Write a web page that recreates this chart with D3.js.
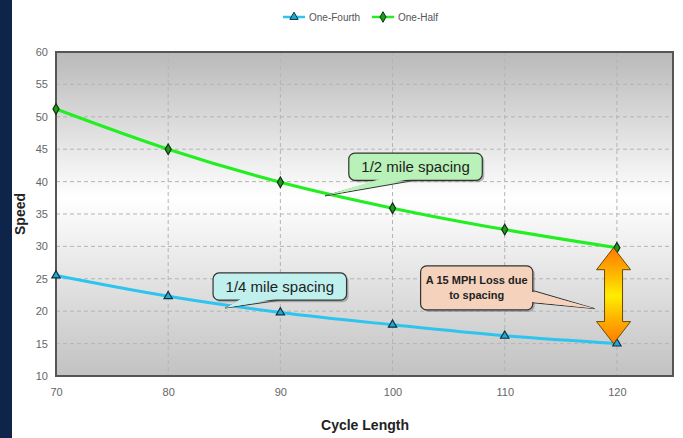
<!DOCTYPE html>
<html><head><meta charset="utf-8">
<script src="https://cdn.jsdelivr.net/npm/d3@7"></script>
<style>body{margin:0;background:#fff;}svg{display:block;font-family:"Liberation Sans",Arial,sans-serif;}</style>
</head><body>
<script>
const cycleLengths = [70, 80, 90, 100, 110, 120];
const oneFourth = [25.5, 22.3, 19.8, 17.9, 16.2, 15.0];
const oneHalf = [51.2, 45.0, 39.9, 35.9, 32.6, 29.8];
const xTicks = [70, 80, 90, 100, 110, 120];
const yTicks = [10, 15, 20, 25, 30, 35, 40, 45, 50, 55, 60];
const seriesNames = ["One-Fourth", "One-Half"];

const W = 683, H = 438;
const m = {l: 56, t: 52, r: 673, b: 376};
const svg = d3.select("body").append("svg").attr("width", W).attr("height", H);

svg.append("rect").attr("x", 0).attr("y", 0).attr("width", 12).attr("height", H).attr("fill", "#0e2448");

const x = d3.scaleLinear().domain([70, 125]).range([m.l, m.r]);
const y = d3.scaleLinear().domain([10, 60]).range([m.b, m.t]);

const defs = svg.append("defs");
const bg = defs.append("linearGradient").attr("id", "bg").attr("x1", 0).attr("y1", 0).attr("x2", 0).attr("y2", 1);
bg.append("stop").attr("offset", "0%").attr("stop-color", "#b9b9b9");
bg.append("stop").attr("offset", "45%").attr("stop-color", "#ffffff");
bg.append("stop").attr("offset", "100%").attr("stop-color", "#c2c2c2");
const ag = defs.append("linearGradient").attr("id", "arr").attr("x1", 0).attr("y1", 0).attr("x2", 0).attr("y2", 1);
ag.append("stop").attr("offset", "0%").attr("stop-color", "#ff7a00");
ag.append("stop").attr("offset", "25%").attr("stop-color", "#ffb000");
ag.append("stop").attr("offset", "50%").attr("stop-color", "#ffee00");
ag.append("stop").attr("offset", "75%").attr("stop-color", "#ffb000");
ag.append("stop").attr("offset", "100%").attr("stop-color", "#ff7a00");

svg.append("rect").attr("x", m.l).attr("y", m.t).attr("width", m.r - m.l).attr("height", m.b - m.t).attr("fill", "url(#bg)");

svg.append("g").selectAll("line").data(yTicks.slice(1, -1)).join("line")
  .attr("x1", m.l).attr("x2", m.r).attr("y1", d => y(d)).attr("y2", d => y(d))
  .attr("stroke", "#b4b4b4").attr("stroke-dasharray", "4,3");
svg.append("g").selectAll("line").data(xTicks.slice(1)).join("line")
  .attr("y1", m.t).attr("y2", m.b).attr("x1", d => x(d)).attr("x2", d => x(d))
  .attr("stroke", "#b4b4b4").attr("stroke-dasharray", "4,3");

svg.append("rect").attr("x", m.l).attr("y", m.t).attr("width", m.r - m.l).attr("height", m.b - m.t)
  .attr("fill", "none").attr("stroke", "#555").attr("stroke-width", 2);

const yAxis = svg.append("g").attr("transform", `translate(${m.l - 6},0)`)
  .call(d3.axisLeft(y).tickValues(yTicks).tickSize(0).tickPadding(2));
yAxis.select(".domain").remove();
yAxis.selectAll("text").attr("font-size", 11).attr("fill", "#666");
const xAxis = svg.append("g").attr("transform", `translate(0,${m.b + 10})`)
  .call(d3.axisBottom(x).tickValues(xTicks).tickSize(0).tickPadding(2));
xAxis.select(".domain").remove();
xAxis.selectAll("text").attr("font-size", 11).attr("fill", "#666");

svg.append("text").attr("transform", `translate(25,${(m.t + m.b) / 2}) rotate(-90)`)
  .attr("text-anchor", "middle").attr("font-size", 14).attr("font-weight", "bold").attr("fill", "#222").text("Speed");
svg.append("text").attr("x", 365).attr("y", 430).attr("text-anchor", "middle")
  .attr("font-size", 14).attr("font-weight", "bold").attr("fill", "#222").text("Cycle Length");

const line = d3.line().x(d => x(d[0])).y(d => y(d[1])).curve(d3.curveMonotoneX);
const dQ = cycleLengths.map((c, i) => [c, oneFourth[i]]);
const dH = cycleLengths.map((c, i) => [c, oneHalf[i]]);
svg.append("path").attr("d", line(dQ)).attr("fill", "none").attr("stroke", "#2ec4f0").attr("stroke-width", 3);
svg.append("path").attr("d", line(dH)).attr("fill", "none").attr("stroke", "#22ee22").attr("stroke-width", 3);

const tri = d3.symbol().type(d3.symbolTriangle).size(30);
const dia = d3.symbol().type(d3.symbolDiamond).size(32);
svg.append("g").selectAll("path").data(dQ).join("path")
  .attr("d", tri).attr("transform", d => `translate(${x(d[0])},${y(d[1])})`)
  .attr("fill", "#1fa9d6").attr("stroke", "#0b3340").attr("stroke-width", 1.2);
svg.append("g").selectAll("path").data(dH).join("path")
  .attr("d", dia).attr("transform", d => `translate(${x(d[0])},${y(d[1])})`)
  .attr("fill", "#1d9a1d").attr("stroke", "#0b330b").attr("stroke-width", 1.2);

const lg = svg.append("g").attr("font-size", 10).attr("fill", "#555");
const legendItems = [
  {name: seriesNames[0], x0: 283, color: "#2ec4f0", sym: tri, fill: "#1fa9d6", st: "#0b3340"},
  {name: seriesNames[1], x0: 372, color: "#22ee22", sym: dia, fill: "#1d9a1d", st: "#0b330b"}
];
legendItems.forEach(it => {
  lg.append("line").attr("x1", it.x0).attr("x2", it.x0 + 22).attr("y1", 17).attr("y2", 17).attr("stroke", it.color).attr("stroke-width", 2.5);
  lg.append("path").attr("d", it.sym).attr("transform", `translate(${it.x0 + 11},17)`).attr("fill", it.fill).attr("stroke", it.st);
  lg.append("text").attr("x", it.x0 + 26).attr("y", 21).text(it.name);
});

function callout(box, tip, base, fill, lines, fs) {
  const x0 = x(box[0]), x1 = x(box[1]), y0 = y(box[2]), y1 = y(box[3]);
  const r = 6;
  const g = svg.append("g");
  const b1 = [x(base[0]), y(base[2])], b2 = [x(base[1]), y(base[2])];
  if (base[3]) {
    g.append("path").attr("d", `M${x(base[0])},${y(base[1])} L${x(tip[0])},${y(tip[1])} L${x(base[0])},${y(base[2])} Z`)
      .attr("fill", fill).attr("stroke", "#333").attr("stroke-width", 1);
  } else {
    g.append("path").attr("d", `M${b1[0]},${b1[1]} L${x(tip[0])},${y(tip[1])} L${b2[0]},${b2[1]} Z`)
      .attr("fill", fill).attr("stroke", "#333").attr("stroke-width", 1);
  }
  g.append("rect").attr("x", x0 + 2).attr("y", y0 + 2).attr("width", x1 - x0).attr("height", y1 - y0).attr("rx", r)
    .attr("fill", "#777").attr("opacity", 0.5);
  g.append("rect").attr("x", x0).attr("y", y0).attr("width", x1 - x0).attr("height", y1 - y0).attr("rx", r)
    .attr("fill", fill).attr("stroke", "#333").attr("stroke-width", 1.2);
  if (base[3]) {
    g.append("path").attr("d", `M${x(base[0]) - 2},${y(base[1]) + 1} L${x(tip[0])},${y(tip[1])} L${x(base[0]) - 2},${y(base[2]) - 1} Z`)
      .attr("fill", fill);
  } else {
    g.append("path").attr("d", `M${b1[0] + 1},${b1[1] - 2} L${x(tip[0])},${y(tip[1])} L${b2[0] - 1},${b2[1] - 2} Z`)
      .attr("fill", fill);
  }
  const cx = (x0 + x1) / 2, cy = (y0 + y1) / 2;
  lines.forEach((t, i) => {
    g.append("text").attr("x", cx).attr("y", cy + (i - (lines.length - 1) / 2) * (fs + 4) + fs * 0.36)
      .attr("text-anchor", "middle").attr("font-size", fs).attr("fill", "#222")
      .attr("font-weight", lines.length > 1 ? "bold" : "normal").text(t);
  });
}
callout([96.1, 108.0, 44.4, 40.2], [94.0, 37.8], [99.0, 102.0, 40.2], "#b8f2b8", ["1/2 mile spacing"], 15);
callout([84.0, 95.9, 25.9, 21.7], [85.1, 20.5], [86.5, 90.0, 21.7], "#bff0ee", ["1/4 mile spacing"], 15);
callout([102.5, 112.5, 27.0, 20.2], [118.0, 20.4], [112.5, 23.2, 21.3, true], "#f4d2bc", ["A 15 MPH Loss due", "to spacing"], 11);

const ax = x(119.7);
const yTop = y(oneHalf[5]), yBot = y(oneFourth[5]);
const hw = 17, sw = 9, hh = 22;
svg.append("path").attr("d",
  `M${ax},${yTop} L${ax + hw},${yTop + hh} L${ax + sw},${yTop + hh} L${ax + sw},${yBot - hh} L${ax + hw},${yBot - hh} L${ax},${yBot} L${ax - hw},${yBot - hh} L${ax - sw},${yBot - hh} L${ax - sw},${yTop + hh} L${ax - hw},${yTop + hh} Z`)
  .attr("fill", "url(#arr)").attr("stroke", "#6a4a00").attr("stroke-width", 1);
</script>
</body></html>
